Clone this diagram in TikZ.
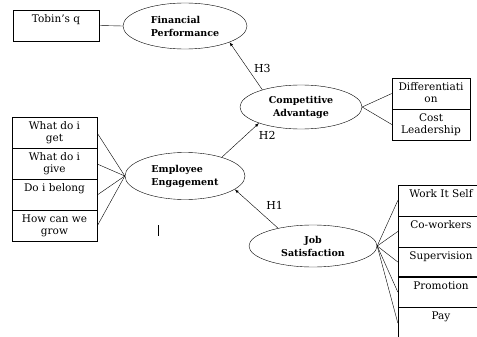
\documentclass[tikz,border=0pt]{standalone}
\usepackage{fontspec}
\setmainfont{DejaVu Serif}
\usetikzlibrary{shapes.geometric, positioning}
\tikzset{
  construct/.style={ellipse, draw, inner sep=0pt, font=\fontsize{9.5}{13}\selectfont\bfseries},
  item/.style={draw, minimum width=86pt, minimum height=31pt, inner sep=0pt,
    label={[anchor=north, align=center, inner sep=4.5pt, font=\fontsize{10.5}{12}\selectfont]north:#1}},
  hyp/.style={font=\fontsize{11}{12}\selectfont}
}
\begin{document}
\begin{tikzpicture}[x=1pt, y=-1pt, >=latex]
\useasboundingbox (0,0) rectangle (477,337);
% constructs
\node[construct, align=left, minimum width=124pt, minimum height=46pt] (fp) at (185,26) {Financial\\Performance};
\node[construct, align=center, minimum width=122pt, minimum height=44pt] (ca) at (301,107) {Competitive\\Advantage};
\node[construct, align=left, minimum width=120pt, minimum height=47pt] (ee) at (185,176) {Employee\\Engagement};
\node[construct, align=center, minimum width=128pt, minimum height=42pt] (js) at (313,246) {Job\\Satisfaction};
% indicators
\node[item={Tobin's q}] (tobin) at (56,25.5) {};
\node[item={What do i\\get}, minimum width=85pt] (get) at (54.5,133) {};
\node[item={What do i\\give}, minimum width=85pt] (give) at (54.5,164) {};
\node[item={Do i belong}, minimum width=85pt] (belong) at (54.5,195) {};
\node[item={How can we\\grow}, minimum width=85pt] (grow) at (54.5,226) {};
\node[item={Differentiati\\on}, minimum width=78pt] (diff) at (431,93.5) {};
\node[item={Cost\\Leadership}, minimum width=78pt] (cost) at (431,124.5) {};
\node[item={Work It Self}] (work) at (441,200.5) {};
\node[item={Co-workers}] (cowork) at (441,231.5) {};
\node[item={Supervision}, minimum height=30pt] (super) at (441,262) {};
\node[item={Promotion}, minimum height=30pt] (promo) at (441,292) {};
\node[item={Pay}, minimum height=32pt] (pay) at (441,323) {};
\draw[thick] (grow.north west) -- (grow.north east);
\draw[thick] (promo.north west) -- (promo.north east);
% measurement lines
\draw (tobin.east) -- (fp.west);
\foreach \n in {get, give, belong, grow} \draw (ee.west) -- (\n.east);
\foreach \n in {diff, cost} \draw (ca.east) -- (\n.west);
\foreach \n in {work, cowork, super, promo, pay} \draw (js.east) -- (\n.west);
% hypotheses
\draw[->] (ca.156) -- (fp.-20) node[hyp, pos=0.45, right=3pt] (h3) {H3};
\draw[->] (ee.27) -- (ca.-159) node[hyp, pos=0.85, below right=0pt and 2pt] (h2) {H2};
\draw[->] (js.153) -- (ee.-15) node[hyp, pos=0.4, above right=0pt and 2pt] (h1) {H1};
\draw (158,225) -- (158,236);
\end{tikzpicture}
\end{document}
